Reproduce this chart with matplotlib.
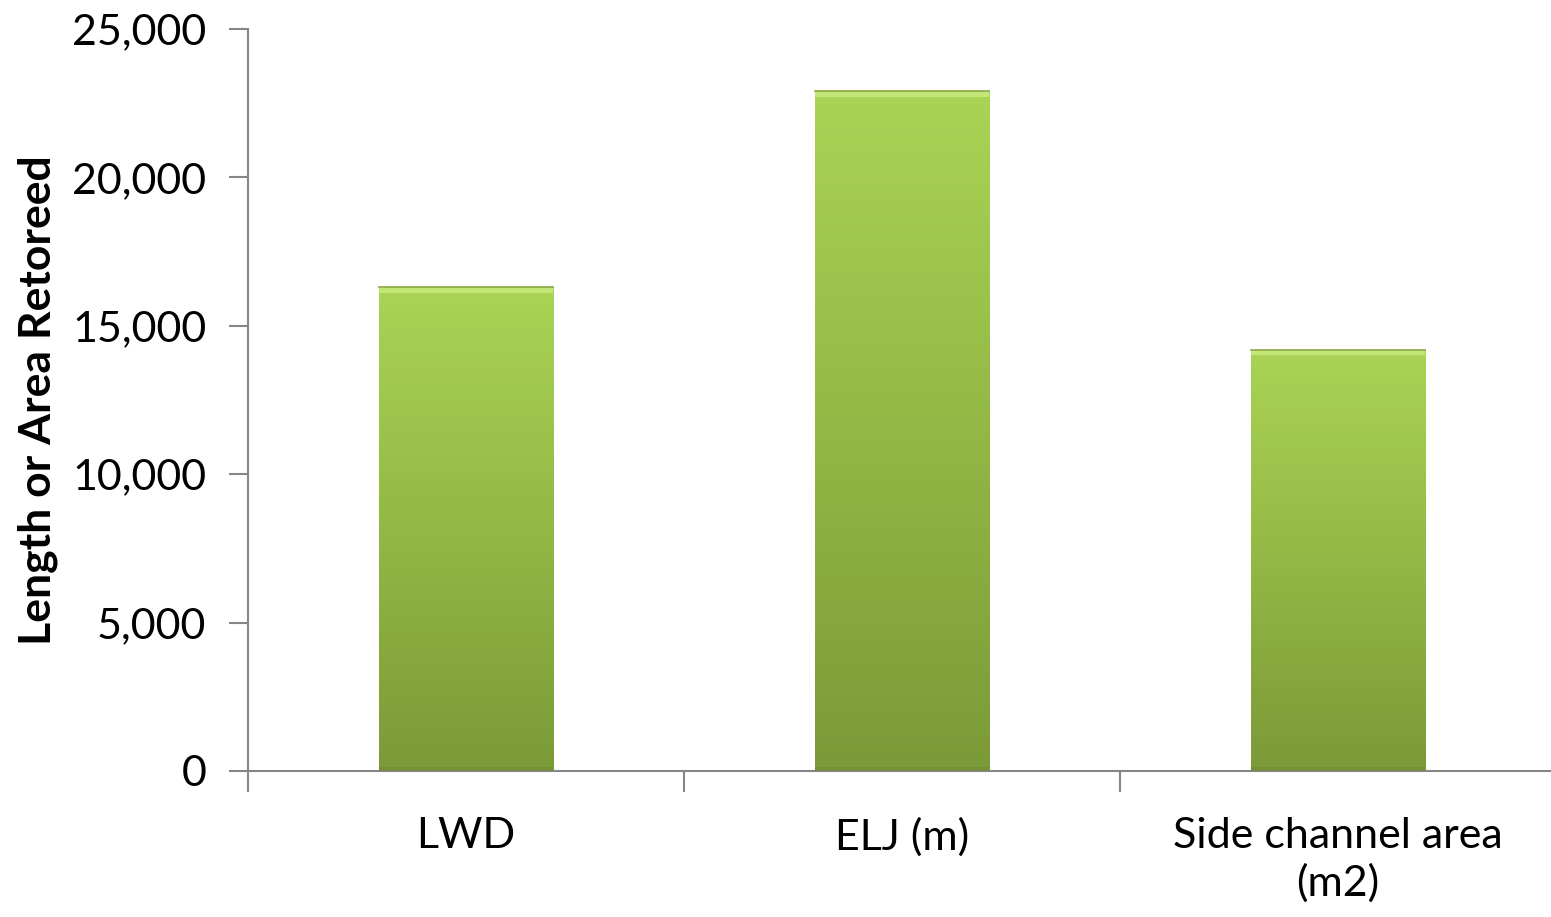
import matplotlib.pyplot as plt
import numpy as np
from matplotlib.colors import LinearSegmentedColormap
from matplotlib.ticker import FuncFormatter, MultipleLocator

categories = ["LWD", "ELJ (m)", "Side channel area\n(m2)"]
values = [16300, 22900, 14200]

plt.rcParams["font.family"] = ["Lato", "DejaVu Sans"]

fig = plt.figure(figsize=(15.51, 9.17), dpi=100)
ax = fig.add_axes([248 / 1551, 146 / 917, 1308 / 1551, 742 / 917])

x = np.arange(len(categories))
bars = ax.bar(x, values, width=0.4, color="none", edgecolor="none", zorder=2)

# vertical green gradient, lighter at the top, clipped to each bar
green = LinearSegmentedColormap.from_list("green", ["#7b9a38", "#93b845", "#a9d455"])
grad = np.linspace(0, 1, 256).reshape(-1, 1)
for rect in bars:
    x0, y0 = rect.get_x(), rect.get_y()
    w, h = rect.get_width(), rect.get_height()
    im = ax.imshow(grad, cmap=green, origin="lower", aspect="auto",
                   extent=[x0, x0 + w, y0, y0 + h], zorder=2)
    im.set_clip_path(rect)
    # bevel highlight along the top edge, darker rim at the base
    ax.fill_between([x0, x0 + w], y0 + h - 200, y0 + h,
                    color="#c8ea80", alpha=0.85, lw=0, zorder=3)
    ax.fill_between([x0, x0 + w], y0, y0 + 150,
                    color="#6f8c30", alpha=0.6, lw=0, zorder=3)
    ax.plot([x0, x0 + w], [y0 + h, y0 + h], color="#8aa844", lw=1.2, zorder=4)

ax.set_xlim(-0.5, 2.5)
ax.set_ylim(0, 25000)
ax.yaxis.set_major_locator(MultipleLocator(5000))
ax.yaxis.set_major_formatter(FuncFormatter(lambda v, _: f"{int(v):,}"))

ax.set_xticks([-0.5, 0.5, 1.5, 2.5])
ax.set_xticklabels([])
ax.set_xticks(x, minor=True)
ax.set_xticklabels(categories, minor=True, fontsize=31, linespacing=1.25)
ax.tick_params(axis="x", which="minor", length=0, pad=33)
ax.tick_params(axis="x", which="major", length=15, color="#868686", width=1.5)
ax.tick_params(axis="y", length=14, color="#868686", width=1.5, labelsize=31, pad=16)

for side in ["top", "right"]:
    ax.spines[side].set_visible(False)
for side in ["left", "bottom"]:
    ax.spines[side].set_color("#868686")
    ax.spines[side].set_linewidth(1.5)

ax.set_ylabel("Length or Area Retoreed", fontsize=32, fontweight="bold", labelpad=10)

fig.savefig("out.png", dpi=100)
